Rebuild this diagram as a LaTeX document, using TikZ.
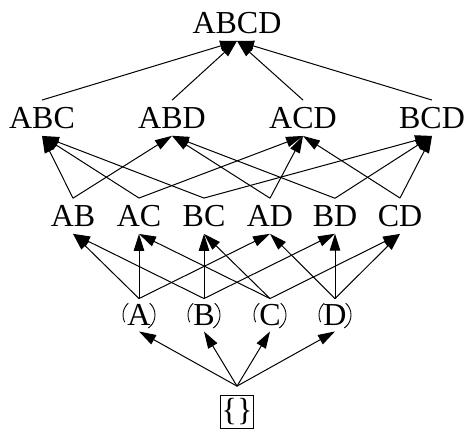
\documentclass[tikz,border=0pt]{standalone}
\usepackage{fontspec}
\setmainfont{Liberation Serif}
\usetikzlibrary{arrows.meta}

\tikzset{
    subset/.style={inner sep=7pt, font=\fontsize{32}{38}\selectfont},
    singleton/.style={circle, draw, line width=0.9pt, minimum size=32pt, inner sep=0pt,
        dash pattern=on 28.8pt off 23.5pt on 20.7pt off 27.6pt, dash phase=15.4pt,
        font=\fontsize{32}{38}\selectfont},
    emptyset/.style={draw, line width=0.8pt, minimum size=33pt, inner sep=0pt,
        font=\fontsize{32}{38}\selectfont},
    edge/.style={-{Triangle[length=17pt, width=10.5pt]}, line width=1pt}
}

\begin{document}
\begin{tikzpicture}[x=1pt, y=-1pt]
    \useasboundingbox (0, 0) rectangle (465, 433);

    % Top
    \node[subset] (ABCD) at (237, 23) {ABCD};

    % Three elements
    \node[subset] (ABC) at (42, 118) {ABC};
    \node[subset] (ABD) at (172, 118) {ABD};
    \node[subset] (ACD) at (303, 118) {ACD};
    \node[subset] (BCD) at (432, 118) {BCD};

    % Two elements
    \node[subset] (AB) at (73, 216) {AB};
    \node[subset] (AC) at (139, 216) {AC};
    \node[subset] (BC) at (204, 216) {BC};
    \node[subset] (AD) at (270, 216) {AD};
    \node[subset] (BD) at (335, 216) {BD};
    \node[subset] (CD) at (400, 216) {CD};

    % One element
    \node[singleton] (A) at (139, 315) {A};
    \node[singleton] (B) at (204, 315) {B};
    \node[singleton] (C) at (270, 315) {C};
    \node[singleton] (D) at (335, 315) {D};

    % Empty set
    \node[emptyset] (empty) at (237, 412) {\{\}};
    \coordinate (emptytop) at ([yshift=9pt]empty.north);

    \draw[edge] (emptytop) -- (A.south);
    \draw[edge] (emptytop) -- (B.south);
    \draw[edge] (emptytop) -- (C.south);
    \draw[edge] (emptytop) -- (D.south);

    \draw[edge] (A.north) -- (AB.south);
    \draw[edge] (A.north) -- (AC.south);
    \draw[edge] (A.north) -- (AD.south);
    \draw[edge] (B.north) -- (AB.south);
    \draw[edge] (B.north) -- (BC.south);
    \draw[edge] (B.north) -- (BD.south);
    \draw[edge] (C.north) -- (AC.south);
    \draw[edge] (C.north) -- (BC.south);
    \draw[edge] (C.north) -- (CD.south);
    \draw[edge] (D.north) -- (AD.south);
    \draw[edge] (D.north) -- (BD.south);
    \draw[edge] (D.north) -- (CD.south);

    \draw[edge] (AB.north) -- (ABC.south);
    \draw[edge] (AB.north) -- (ABD.south);
    \draw[edge] (AC.north) -- (ABC.south);
    \draw[edge] (AC.north) -- (ACD.south);
    \draw[edge] (BC.north) -- (ABC.south);
    \draw[edge] (BC.north) -- (BCD.south);
    \draw[edge] (AD.north) -- (ABD.south);
    \draw[edge] (AD.north) -- (ACD.south);
    \draw[edge] (BD.north) -- (ABD.south);
    \draw[edge] (BD.north) -- (BCD.south);
    \draw[edge] (CD.north) -- (ACD.south);
    \draw[edge] (CD.north) -- (BCD.south);

    \draw[edge] (ABC.north) -- (ABCD.south);
    \draw[edge] (ABD.north) -- (ABCD.south);
    \draw[edge] (ACD.north) -- (ABCD.south);
    \draw[edge] (BCD.north) -- (ABCD.south);
\end{tikzpicture}
\end{document}
